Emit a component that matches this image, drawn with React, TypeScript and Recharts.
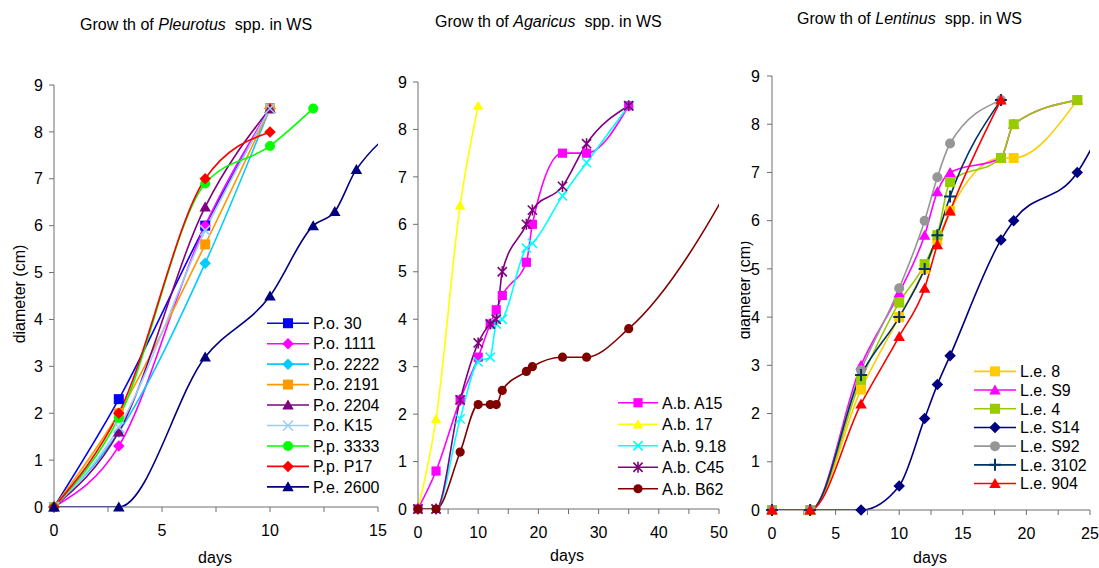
import React from "react";
import { LineChart, Line, XAxis, YAxis, Legend } from "recharts";

const FONT = '"Liberation Sans", Arial, Helvetica, sans-serif';
const AXIS = "#6e6e6e";

// Pleurotus (days / diameter cm)
const pDays = [0, 3, 7, 10];
const pDays3333 = [0, 3, 7, 10, 12];
const pDays2600 = [0, 3, 7, 10, 12, 13, 14, 18];
const po30 = [0, 2.3, 6.0, 8.5];
const po1111 = [0, 1.3, 6.0, 8.5];
const po2222 = [0, 1.6, 5.2, 8.5];
const po2191 = [0, 2.0, 5.6, 8.5];
const po2204 = [0, 1.6, 6.4, 8.5];
const poK15 = [0, 1.7, 5.9, 8.5];
const pp3333 = [0, 1.9, 6.9, 7.7, 8.5];
const ppP17 = [0, 2.0, 7.0, 8.0];
const pe2600 = [0, 0, 3.2, 4.5, 6.0, 6.3, 7.2, 8.5];

// Agaricus
const aDays = [0, 3, 7, 10, 12, 13, 14, 18, 19, 24, 28, 35];
const aDays17 = [0, 3, 7, 10];
const aDaysB62 = [0, 3, 7, 10, 12, 13, 14, 18, 19, 24, 28, 35, 59];
const abA15 = [0, 0.8, 2.3, 3.2, 3.9, 4.2, 4.5, 5.2, 6.0, 7.5, 7.5, 8.5];
const ab17 = [0, 1.9, 6.4, 8.5];
const ab918 = [0, 0, 1.9, 3.1, 3.2, 3.9, 4.0, 5.5, 5.6, 6.6, 7.3, 8.5];
const abC45 = [0, 0, 2.3, 3.5, 3.9, 4.0, 5.0, 6.0, 6.3, 6.8, 7.7, 8.5];
const abB62 = [0, 0, 1.2, 2.2, 2.2, 2.2, 2.5, 2.9, 3.0, 3.2, 3.2, 3.8, 8.5];

// Lentinus
const lDays = [0, 3, 7, 10, 12, 13, 14, 18];
const lDaysLong = [0, 3, 7, 10, 12, 13, 14, 18, 19, 24];
const lDaysS14 = [0, 3, 7, 10, 12, 13, 14, 18, 19, 24, 27];
const le8 = [0, 0, 2.5, 4.0, 5.0, 5.6, 6.2, 7.3, 7.3, 8.5];
const leS9 = [0, 0, 3.0, 4.5, 5.7, 6.6, 7.0, 7.3, 8.0, 8.5];
const le4 = [0, 0, 2.7, 4.3, 5.1, 5.7, 6.8, 7.3, 8.0, 8.5];
const leS14 = [0, 0, 0, 0.5, 1.9, 2.6, 3.2, 5.6, 6.0, 7.0, 8.5];
const leS92 = [0, 0, 2.9, 4.6, 6.0, 6.9, 7.6, 8.5];
const le3102 = [0, 0, 2.8, 4.0, 5.0, 5.7, 6.5, 8.5];
const le904 = [0, 0, 2.2, 3.6, 4.6, 5.5, 6.2, 8.5];

const yTicks = [0, 1, 2, 3, 4, 5, 6, 7, 8, 9];
const pTicks = [0, 2.5, 5, 7.5, 10, 12.5, 15];
const aTicks = [0, 5, 10, 15, 20, 25, 30, 35, 40, 45, 50];
const lTicks = [0, 2.5, 5, 7.5, 10, 12.5, 15, 17.5, 20, 22.5, 25];

type Shape = "square" | "diamond" | "triangle" | "circle" | "x" | "star" | "plus";
type Series = { name: string; color: string; shape: Shape; days: number[]; values: number[] };

const pleurotus: Series[] = [
  { name: "P.o. 30", color: "#0000ff", shape: "square", days: pDays, values: po30 },
  { name: "P.o. 1111", color: "#ff00ff", shape: "diamond", days: pDays, values: po1111 },
  { name: "P.o. 2222", color: "#00ccff", shape: "diamond", days: pDays, values: po2222 },
  { name: "P.o. 2191", color: "#ff9900", shape: "square", days: pDays, values: po2191 },
  { name: "P.o. 2204", color: "#800080", shape: "triangle", days: pDays, values: po2204 },
  { name: "P.o. K15", color: "#99ccff", shape: "x", days: pDays, values: poK15 },
  { name: "P.p. 3333", color: "#00ff00", shape: "circle", days: pDays3333, values: pp3333 },
  { name: "P.p. P17", color: "#ff0000", shape: "diamond", days: pDays, values: ppP17 },
  { name: "P.e. 2600", color: "#000080", shape: "triangle", days: pDays2600, values: pe2600 },
];

const agaricus: Series[] = [
  { name: "A.b. A15", color: "#ff00ff", shape: "square", days: aDays, values: abA15 },
  { name: "A.b. 17", color: "#ffff00", shape: "triangle", days: aDays17, values: ab17 },
  { name: "A.b. 9.18", color: "#00ffff", shape: "x", days: aDays, values: ab918 },
  { name: "A.b. C45", color: "#800080", shape: "star", days: aDays, values: abC45 },
  { name: "A.b. B62", color: "#800000", shape: "circle", days: aDaysB62, values: abB62 },
];

const lentinus: Series[] = [
  { name: "L.e. 8", color: "#ffcc00", shape: "square", days: lDaysLong, values: le8 },
  { name: "L.e. S9", color: "#ff00ff", shape: "triangle", days: lDaysLong, values: leS9 },
  { name: "L.e. 4", color: "#99cc00", shape: "square", days: lDaysLong, values: le4 },
  { name: "L.e. S14", color: "#000080", shape: "diamond", days: lDaysS14, values: leS14 },
  { name: "L.e. S92", color: "#969696", shape: "circle", days: lDays, values: leS92 },
  { name: "L.e. 3102", color: "#003366", shape: "plus", days: lDays, values: le3102 },
  { name: "L.e. 904", color: "#ff0000", shape: "triangle", days: lDays, values: le904 },
];

const toPoints = (s: Series) => s.days.map((x, i) => ({ x, y: s.values[i] }));

const Marker = ({ shape, x, y, color, r }: { shape: Shape; x?: number; y?: number; color: string; r: number }) => {
  if (x == null || y == null || isNaN(x) || isNaN(y)) return null;
  switch (shape) {
    case "square":
      return <rect x={x - r} y={y - r} width={2 * r} height={2 * r} fill={color} />;
    case "diamond": {
      const d = r * 1.15;
      return <polygon points={`${x},${y - d} ${x + d},${y} ${x},${y + d} ${x - d},${y}`} fill={color} />;
    }
    case "triangle": {
      const w = r * 1.15;
      return <polygon points={`${x},${y - r * 1.1} ${x + w},${y + r * 0.9} ${x - w},${y + r * 0.9}`} fill={color} />;
    }
    case "circle":
      return <circle cx={x} cy={y} r={r} fill={color} />;
    case "x":
      return (
        <path d={`M${x - r},${y - r}L${x + r},${y + r}M${x - r},${y + r}L${x + r},${y - r}`} stroke={color} strokeWidth={1.6} fill="none" />
      );
    case "star":
      return (
        <path
          d={`M${x - r},${y - r}L${x + r},${y + r}M${x - r},${y + r}L${x + r},${y - r}M${x},${y - r * 1.2}L${x},${y + r * 1.2}`}
          stroke={color}
          strokeWidth={1.6}
          fill="none"
        />
      );
    case "plus":
      return (
        <path d={`M${x - r * 1.2},${y}L${x + r * 1.2},${y}M${x},${y - r * 1.2}L${x},${y + r * 1.2}`} stroke={color} strokeWidth={2} fill="none" />
      );
  }
  return null;
};

type PanelCfg = {
  left: number;
  width: number;
  margin: { top: number; right: number; bottom: number; left: number };
  yWidth: number;
  xMax: number;
  xTicks: number[];
  labelStep: number;
  yTickMargin: number;
  r: number;
  legend: { left: number; top: number; gap: number; lineLen: number };
};

const HEIGHT = 568;
const X_HEIGHT = 30;

const panels: { series: Series[]; cfg: PanelCfg }[] = [
  {
    series: pleurotus,
    cfg: {
      left: 0,
      width: 390,
      margin: { top: 85, right: 12, bottom: 31, left: 24 },
      yWidth: 30,
      xMax: 15,
      xTicks: pTicks,
      labelStep: 5,
      yTickMargin: 6,
      r: 5,
      legend: { left: 267, top: 313, gap: 20.45, lineLen: 42 },
    },
  },
  {
    series: agaricus,
    cfg: {
      left: 390,
      width: 345,
      margin: { top: 82, right: 16, bottom: 29, left: 0 },
      yWidth: 28,
      xMax: 50,
      xTicks: aTicks,
      labelStep: 10,
      yTickMargin: 6,
      r: 4.6,
      legend: { left: 228, top: 391.5, gap: 21.5, lineLen: 40 },
    },
  },
  {
    series: lentinus,
    cfg: {
      left: 737,
      width: 362,
      margin: { top: 76, right: 9, bottom: 28, left: 5 },
      yWidth: 30,
      xMax: 25,
      xTicks: lTicks,
      labelStep: 5,
      yTickMargin: 7,
      r: 5,
      legend: { left: 237, top: 362.3, gap: 18.7, lineLen: 42 },
    },
  },
];

const LegendBox = ({ series, cfg }: { series: Series[]; cfg: PanelCfg }) => {
  const { gap, lineLen } = cfg.legend;
  return (
    <svg width={130} height={series.length * gap + 4} style={{ display: "block", overflow: "visible" }}>
      {series.map((s, i) => {
        const y = gap * i + gap / 2;
        return (
          <g key={s.name}>
            <line x1={0} x2={lineLen} y1={y} y2={y} stroke={s.color} strokeWidth={1.6} />
            <Marker shape={s.shape} x={lineLen / 2} y={y} color={s.color} r={cfg.r} />
            <text x={lineLen + 4} y={y} dy="0.36em" fontSize={16} fontFamily={FONT} fill="#000">
              {s.name}
            </text>
          </g>
        );
      })}
    </svg>
  );
};

const Panel = ({ series, cfg }: { series: Series[]; cfg: PanelCfg }) => {
  const m = cfg.margin;
  const curveMargin = { top: m.top, right: m.right, bottom: m.bottom + X_HEIGHT, left: m.left + cfg.yWidth };
  return (
    <div style={{ position: "absolute", left: cfg.left, top: 0, width: cfg.width, height: HEIGHT }}>
      {/* curves, clipped to the plot area */}
      <div style={{ position: "absolute", left: 0, top: 0 }}>
        <LineChart width={cfg.width} height={HEIGHT} margin={curveMargin}>
          <XAxis hide type="number" dataKey="x" domain={[0, cfg.xMax]} allowDataOverflow />
          <YAxis hide type="number" domain={[0, 9]} allowDataOverflow />
          {series.map((s) => (
            <Line
              key={s.name}
              data={toPoints(s)}
              dataKey="y"
              type="monotone"
              stroke={s.color}
              strokeWidth={1.6}
              dot={false}
              activeDot={false}
              isAnimationActive={false}
            />
          ))}
        </LineChart>
      </div>
      {/* axes, markers, legend */}
      <div style={{ position: "absolute", left: 0, top: 0 }}>
        <LineChart width={cfg.width} height={HEIGHT} margin={m}>
          <XAxis
            type="number"
            dataKey="x"
            domain={[0, cfg.xMax]}
            ticks={cfg.xTicks}
            interval={0}
            height={X_HEIGHT}
            stroke={AXIS}
            tickSize={5}
            tickMargin={13}
            tick={{ fill: "#000", fontSize: 16, fontFamily: FONT }}
            tickFormatter={(v: number) => (v % cfg.labelStep === 0 ? String(v) : "")}
          />
          <YAxis
            type="number"
            domain={[0, 9]}
            ticks={yTicks}
            interval={0}
            width={cfg.yWidth}
            stroke={AXIS}
            tickSize={5}
            tickMargin={cfg.yTickMargin}
            tick={{ fill: "#000", fontSize: 16, fontFamily: FONT }}
          />
          {series.map((s) => (
            <Line
              key={s.name}
              data={toPoints(s).filter((p) => p.x <= cfg.xMax)}
              dataKey="y"
              type="monotone"
              stroke="none"
              activeDot={false}
              isAnimationActive={false}
              dot={(p: any) => (
                <Marker key={`${s.name}-${p.index}`} shape={s.shape} x={p.cx} y={p.cy} color={s.color} r={cfg.r} />
              )}
            />
          ))}
          <Legend
            layout="vertical"
            align="center"
            verticalAlign="middle"
            wrapperStyle={{ left: cfg.legend.left, top: cfg.legend.top, width: 130 }}
            content={() => <LegendBox series={series} cfg={cfg} />}
          />
        </LineChart>
      </div>
    </div>
  );
};

const Title = ({ x, y, genus }: { x: number; y: number; genus: string }) => (
  <text x={x} y={y} fontSize={16} fontFamily={FONT} fill="#000" style={{ whiteSpace: "pre" }}>
    <tspan>Grow th of </tspan>
    <tspan fontStyle="italic">{genus}</tspan>
    <tspan>  spp. in WS</tspan>
  </text>
);

export default function App() {
  return (
    <div
      style={{
        position: "absolute",
        left: 0,
        top: 0,
        width: 1099,
        height: 568,
        overflow: "hidden",
        background: "#fff",
        fontFamily: FONT,
      }}
    >
      {panels.map((p, i) => (
        <Panel key={i} series={p.series} cfg={p.cfg} />
      ))}
      <svg width={1099} height={568} style={{ position: "absolute", left: 0, top: 0, pointerEvents: "none" }}>
        <defs>
          <clipPath id="lab3">
            <rect x={741} y={0} width={40} height={568} />
          </clipPath>
        </defs>
        <Title x={80} y={30} genus="Pleurotus" />
        <Title x={435} y={27} genus="Agaricus" />
        <Title x={797} y={24} genus="Lentinus" />
        <text x={25} y={294} transform="rotate(-90 25 294)" textAnchor="middle" fontSize={16} fontFamily={FONT} fill="#000">
          diameter (cm)
        </text>
        <g clipPath="url(#lab3)">
          <text x={750} y={290} transform="rotate(-90 750 290)" textAnchor="middle" fontSize={16} fontFamily={FONT} fill="#000">
            diameter (cm)
          </text>
        </g>
        <text x={215} y={563} textAnchor="middle" fontSize={16} fontFamily={FONT} fill="#000">
          days
        </text>
        <text x={567} y={561} textAnchor="middle" fontSize={16} fontFamily={FONT} fill="#000">
          days
        </text>
        <text x={930} y={563} textAnchor="middle" fontSize={16} fontFamily={FONT} fill="#000">
          days
        </text>
      </svg>
    </div>
  );
}
